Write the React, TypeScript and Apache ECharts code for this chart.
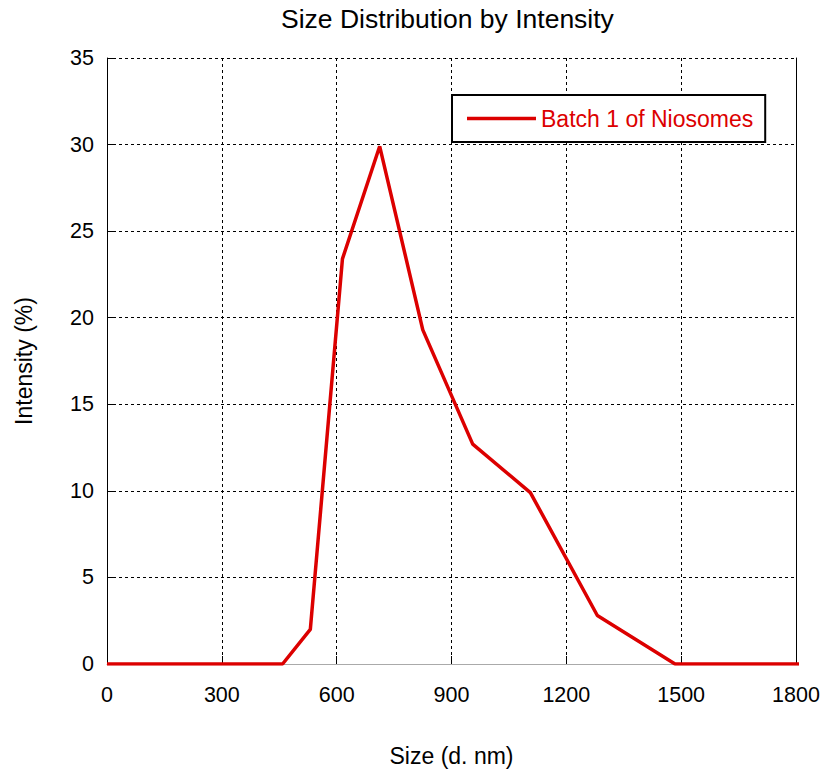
import React, { useEffect, useRef } from "react";
import * as echarts from "echarts";

const titleText = "Size Distribution by Intensity";
const xName = "Size (d. nm)";
const yName = "Intensity (%)";
const seriesName = "Batch 1 of Niosomes";
const sizes = [0, 458.7, 531.2, 615.1, 712.4, 825.0, 955.4, 1106, 1281, 1484, 1718, 1990];
const intensity = [0, 0, 2.0, 23.4, 29.9, 19.3, 12.7, 9.9, 2.8, 0, 0, 0];
const xMin = 0, xMax = 1800, xStep = 300;
const yMin = 0, yMax = 35, yStep = 5;

const FONT = "'Liberation Sans', Arial, Helvetica, sans-serif";
const RED = "#dc0000";

export default function App() {
  const ref = useRef<HTMLDivElement>(null);
  useEffect(() => {
    if (!ref.current) return;
    const chart = echarts.init(ref.current, undefined, { renderer: "svg" });
    const data = sizes.map((s, i) => [s, intensity[i]]);
    const split = { show: true, lineStyle: { color: "#000", width: 1, type: [3, 3] as any } };
    chart.setOption({
      animation: false,
      backgroundColor: "#fff",
      textStyle: { fontFamily: FONT },
      title: {
        text: titleText,
        left: 276,
        top: 0,
        padding: [5, 5, 5, 5],
        textStyle: { fontFamily: FONT, fontSize: 26.5, fontWeight: "normal", color: "#000" },
      },
      legend: {
        show: true,
        left: 452,
        top: 95,
        padding: [12, 12, 12, 15],
        itemWidth: 69,
        itemHeight: 3.5,
        icon: "rect",
        borderColor: "#000",
        borderWidth: 2,
        backgroundColor: "#fff",
        itemStyle: { color: RED },
        textStyle: { fontFamily: FONT, fontSize: 23, color: RED },
        data: [seriesName],
      },
      grid: { left: 107, right: 31, top: 58, bottom: 112, containLabel: false },
      xAxis: {
        type: "value",
        min: xMin,
        max: xMax,
        interval: xStep,
        name: xName,
        nameLocation: "middle",
        nameGap: 80,
        nameTextStyle: { fontFamily: FONT, fontSize: 23, color: "#000" },
        axisLine: { show: true, onZero: false, lineStyle: { color: "#aaa", width: 1 } },
        axisTick: { show: true, inside: true, length: 8, lineStyle: { color: "#000" } },
        axisLabel: { fontFamily: FONT, fontSize: 21.5, color: "#000", margin: 20, formatter: (v: number) => String(v) },
        splitLine: split,
      },
      yAxis: [
        {
          type: "value",
          min: yMin,
          max: yMax,
          interval: yStep,
          name: yName,
          nameLocation: "middle",
          nameGap: 72,
          nameTextStyle: { fontFamily: FONT, fontSize: 23, color: "#000" },
          axisLine: { show: true, lineStyle: { color: "#000", width: 1 } },
          axisTick: { show: true, inside: true, length: 8, lineStyle: { color: "#000" } },
          axisLabel: { fontFamily: FONT, fontSize: 21.5, color: "#000", margin: 13, formatter: (v: number) => String(v) },
          splitLine: split,
        },
        {
          type: "value",
          min: yMin,
          max: yMax,
          interval: yStep,
          position: "right",
          axisLine: { show: true, lineStyle: { color: "#000", width: 1 } },
          axisTick: { show: false },
          axisLabel: { show: false },
          splitLine: { show: false },
        },
      ],
      series: [
        {
          name: seriesName,
          type: "line",
          data,
          yAxisIndex: 0,
          symbol: "none",
          showSymbol: false,
          clip: true,
          itemStyle: { color: RED },
          lineStyle: { color: RED, width: 3.5 },
        },
      ],
    });
    return () => chart.dispose();
  }, []);
  return (
    <div
      ref={ref}
      style={{ position: "fixed", left: 0, top: 0, width: 827, height: 776 }}
    />
  );
}
